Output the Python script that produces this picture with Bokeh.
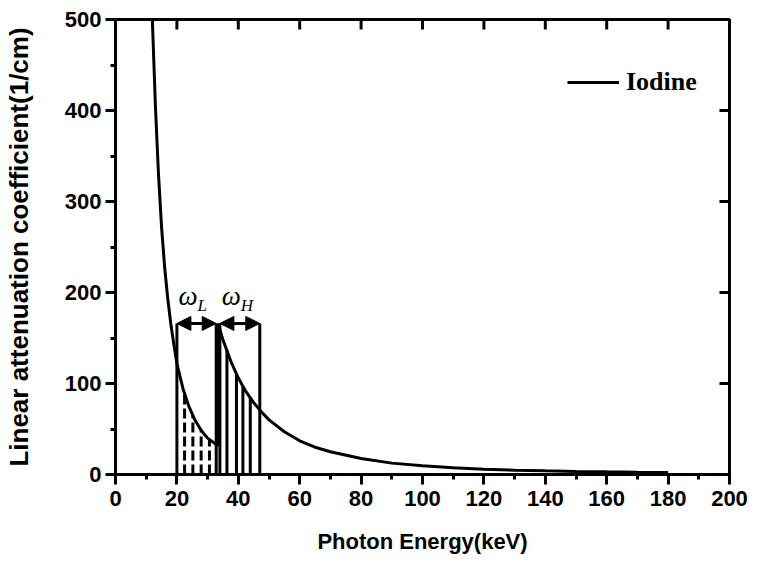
import numpy as np
from bokeh.plotting import figure
from bokeh.models import (Range1d, LinearAxis, SingleIntervalTicker, Arrow, NormalHead,
                          ColumnDataSource, Legend, LegendItem)
from bokeh.core.properties import value
from bokeh.embed import file_html
from bokeh.resources import INLINE

# ---- data ----
series_name = "Iodine"
pre_edge_keV = [12, 13, 14, 15, 16, 17, 18, 19, 20, 22, 24, 26, 28, 30, 32, 33.4]
pre_edge_mu = [500, 405, 330, 272, 228, 194, 166, 143, 122, 94, 74, 59, 48, 40, 35, 32]
post_edge_keV = [33.4, 35, 37.5, 40, 42.5, 45, 47.5, 50, 55, 60, 65, 70, 80, 90,
                 100, 110, 120, 130, 140, 150, 160, 170, 180]
post_edge_mu = [166, 148, 125, 106, 91, 79, 69, 60, 47, 37, 30, 25, 17.5, 12.5,
                9.6, 7.4, 5.9, 4.8, 4.0, 3.4, 2.9, 2.5, 2.2]
omega_L_keV = [20.0, 32.8]
omega_H_keV = [34.0, 47.0]
window_top_mu = 166
omega_L_hatch_keV = [22.5, 25.2, 27.9, 30.6]
omega_H_hatch_keV = [36.3, 39.4, 41.5, 43.9]
window_subscripts = ["L", "H"]
x_major_ticks = [0, 20, 40, 60, 80, 100, 120, 140, 160, 180, 200]
y_major_ticks = [0, 100, 200, 300, 400, 500]

FONT = "Liberation Sans"
SERIF = "Liberation Serif"

X_MIN, X_MAX, Y_MIN, Y_MAX = 0, 200, 0, 500
FRAME_W, FRAME_H = 614, 455

p = figure(frame_width=FRAME_W, frame_height=FRAME_H,
           x_range=Range1d(X_MIN, X_MAX), y_range=Range1d(Y_MIN, Y_MAX),
           x_axis_type=None, y_axis_type=None,
           output_backend="svg", toolbar_location=None,
           min_border_left=108, min_border_right=22,
           min_border_top=19, min_border_bottom=70)
p.outline_line_color = "black"
p.outline_line_width = 3
p.background_fill_color = "white"
p.border_fill_color = "white"


def style_main(ax):
    ax.axis_line_width = 3
    ax.axis_line_color = "black"
    ax.major_tick_line_width = 3
    ax.minor_tick_line_width = 3
    ax.major_tick_line_color = "black"
    ax.minor_tick_line_color = "black"
    ax.major_tick_out = 10
    ax.major_tick_in = 0
    ax.minor_tick_out = 5
    ax.minor_tick_in = 0
    ax.major_label_text_font = FONT
    ax.major_label_text_font_style = "bold"
    ax.major_label_text_font_size = "22px"
    ax.major_label_text_color = "black"
    ax.axis_label_text_font = FONT
    ax.axis_label_text_font_style = "bold"
    ax.axis_label_text_color = "black"


xaxis = LinearAxis(ticker=SingleIntervalTicker(interval=20, num_minor_ticks=2),
                   axis_label="Photon Energy(keV)")
style_main(xaxis)
xaxis.axis_label_text_font_size = "22px"
xaxis.major_label_standoff = 6
xaxis.axis_label_standoff = 20
p.add_layout(xaxis, "below")

yaxis = LinearAxis(ticker=SingleIntervalTicker(interval=100, num_minor_ticks=2),
                   axis_label="Linear attenuation coefficient(1/cm)")
style_main(yaxis)
yaxis.axis_label_text_font_size = "26px"
yaxis.major_label_standoff = 4
yaxis.axis_label_standoff = 28
p.add_layout(yaxis, "left")

# inward ticks on the top and right frame edges (10 px long)
dx_tick = 10 * (X_MAX - X_MIN) / FRAME_W
dy_tick = 10 * (Y_MAX - Y_MIN) / FRAME_H
p.segment(x0=x_major_ticks, y0=[Y_MAX] * len(x_major_ticks),
          x1=x_major_ticks, y1=[Y_MAX - dy_tick] * len(x_major_ticks),
          line_width=3, line_color="black")
p.segment(x0=[X_MAX] * len(y_major_ticks), y0=y_major_ticks,
          x1=[X_MAX - dx_tick] * len(y_major_ticks), y1=y_major_ticks,
          line_width=3, line_color="black")

# curve (with the K-edge jump)
curve_E = pre_edge_keV + post_edge_keV
curve_mu = pre_edge_mu + post_edge_mu
r = p.line(curve_E, curve_mu, line_width=3, line_color="black")

# window boundaries
bounds = omega_L_keV + omega_H_keV
p.segment(x0=bounds, y0=[0] * len(bounds), x1=bounds, y1=[window_top_mu] * len(bounds),
          line_width=3, line_color="black")

# hatching
lo_tops = np.interp(omega_L_hatch_keV, pre_edge_keV, pre_edge_mu)
p.segment(x0=omega_L_hatch_keV, y0=[0] * len(omega_L_hatch_keV),
          x1=omega_L_hatch_keV, y1=list(lo_tops),
          line_width=3, line_color="black", line_dash="10 4")
hi_tops = np.interp(omega_H_hatch_keV, post_edge_keV, post_edge_mu)
p.segment(x0=omega_H_hatch_keV, y0=[0] * len(omega_H_hatch_keV),
          x1=omega_H_hatch_keV, y1=list(hi_tops),
          line_width=3, line_color="black")

# double arrows
arr_src = ColumnDataSource(dict(x0=[omega_L_keV[0], omega_H_keV[0]],
                                x1=[omega_L_keV[1], omega_H_keV[1]],
                                y=[window_top_mu, window_top_mu]))
p.add_layout(Arrow(source=arr_src, x_start="x0", y_start="y", x_end="x1", y_end="y",
                   line_width=3, line_color="black",
                   start=NormalHead(size=14, fill_color="black", line_color="black", line_width=1),
                   end=NormalHead(size=14, fill_color="black", line_color="black", line_width=1)))

# omega labels
mids = [(omega_L_keV[0] + omega_L_keV[1]) / 2, (omega_H_keV[0] + omega_H_keV[1]) / 2]
p.text(x=mids, y=[window_top_mu] * 2, text=["ω", "ω"],
       text_font=value(SERIF), text_font_style="italic", text_font_size="27px",
       text_align="right", text_baseline="alphabetic", y_offset=-27, x_offset=1,
       text_color="black")
p.text(x=mids, y=[window_top_mu] * 2, text=window_subscripts,
       text_font=value(SERIF), text_font_style="italic", text_font_size="17px",
       text_align="left", text_baseline="alphabetic", y_offset=-18, x_offset=1,
       text_color="black")

legend = Legend(items=[LegendItem(label=series_name, renderers=[r])],
                location=(452, 377), glyph_width=52, glyph_height=20, label_standoff=7,
                label_text_font=SERIF, label_text_font_style="bold",
                label_text_font_size="26px", label_text_color="black",
                border_line_color=None,
                background_fill_alpha=0, padding=0, margin=0, spacing=0)
p.add_layout(legend)

open("out.html", "w").write(file_html(p, INLINE))
